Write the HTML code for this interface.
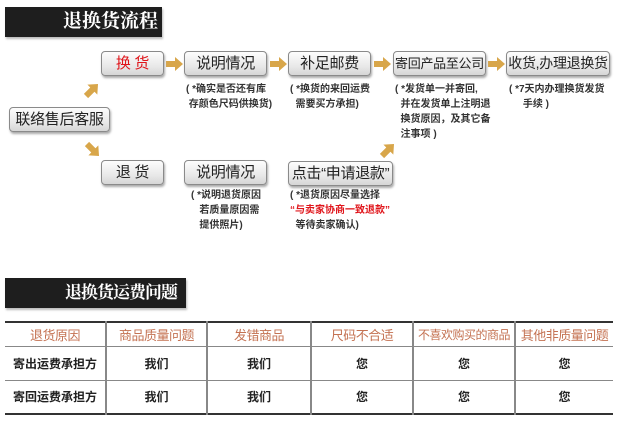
<!DOCTYPE html>
<html><head><meta charset="utf-8"><style>
*{margin:0;padding:0;box-sizing:border-box}
body{width:618px;height:429px;background:#fff;position:relative;overflow:hidden;font-family:"Liberation Sans","Noto Sans CJK SC",sans-serif;color:#222}
.title{position:absolute;background:#1e1e1e;color:#fff;font-family:"Liberation Serif","Noto Serif CJK SC",serif;font-weight:bold;font-size:19px;line-height:30px;box-shadow:1px 2px 2px #bbb;white-space:nowrap;overflow:hidden}
.box{position:absolute;height:25px;border:1px solid #8a8a8a;border-radius:4px;background:linear-gradient(#fdfdfd,#e9e9e9 60%,#d6d6d6);box-shadow:1px 2px 2px #aaa;font-size:15px;line-height:23px;text-align:center;color:#222;white-space:nowrap;letter-spacing:-0.3px}
.note{position:absolute;font-size:10px;line-height:15px;color:#333;white-space:nowrap;font-weight:bold}
.red{color:#e0151b}
svg{position:absolute;left:0;top:0}
table{position:absolute;left:5px;top:321px;width:608px;border-collapse:collapse;border-top:2px solid #333;border-bottom:2px solid #333;table-layout:fixed}
td{border-left:2px solid #888;border-right:2px solid #888;border-bottom:1px solid #888;text-align:center;font-size:12px;font-weight:bold;color:#222;white-space:nowrap;overflow:hidden;padding:0}
td:first-child{border-left:none}td:last-child{border-right:none}
tr.h td{color:#c47252;font-size:13px;height:24px;font-weight:normal;letter-spacing:-0.5px}
tr.r td{height:34px}
</style></head><body>
<div class="title" style="left:5px;top:7px;width:157px;height:30px;padding-left:58px">退换货流程</div>

<svg width="618" height="429">
<defs><g id="ar"><path d="M0,-3 H9 V-7 L17,0 L9,7 V3 H0 Z" fill="#d8a64a"/></g></defs>
<use href="#ar" x="166" y="64"/>
<use href="#ar" x="270" y="64"/>
<use href="#ar" x="374" y="64"/>
<use href="#ar" x="488" y="64"/>
<use href="#ar" transform="translate(86,96) rotate(-45)"/>
<use href="#ar" transform="translate(87,144) rotate(45)"/>
<use href="#ar" transform="translate(382,156) rotate(-45)"/>
</svg>

<div class="box" style="left:101px;top:51px;width:63px"><span class="red">换 货</span></div>
<div class="box" style="left:184px;top:51px;width:83px">说明情况</div>
<div class="box" style="left:288px;top:51px;width:83px">补足邮费</div>
<div class="box" style="left:393px;top:51px;width:93px;font-size:13px">寄回产品至公司</div>
<div class="box" style="left:506px;top:51px;width:104px;font-size:14px">收货,办理退换货</div>
<div class="box" style="left:9px;top:107px;width:101px">联络售后客服</div>
<div class="box" style="left:101px;top:160px;width:63px">退 货</div>
<div class="box" style="left:184px;top:160px;width:83px">说明情况</div>
<div class="box" style="left:288px;top:161px;width:105px">点击“申请退款”</div>

<div class="note" style="left:186px;top:82px">( *确实是否还有库<br>&nbsp;存颜色尺码供换货)</div>
<div class="note" style="left:290px;top:82px">( *换货的来回运费<br>&nbsp;&nbsp;需要买方承担)</div>
<div class="note" style="left:395px;top:82px">( *发货单一并寄回,<br>&nbsp;&nbsp;并在发货单上注明退<br>&nbsp;&nbsp;换货原因，及其它备<br>&nbsp;&nbsp;注事项 )</div>
<div class="note" style="left:509px;top:82px">( *7天内办理换货发货<br>&nbsp;&nbsp;&nbsp;&nbsp;&nbsp;手续 )</div>
<div class="note" style="left:191px;top:188px">( *说明退货原因<br>&nbsp;&nbsp;&nbsp;若质量原因需<br>&nbsp;&nbsp;&nbsp;提供照片)</div>
<div class="note" style="left:290px;top:188px">( *退货原因尽量选择<br><span class="red">“与卖家协商一致退款”</span><br>&nbsp;&nbsp;等待卖家确认)</div>

<div class="title" style="left:5px;top:278px;width:181px;height:30px;padding-left:60px;font-size:17px;letter-spacing:-1px">退换货运费问题</div>

<table>
<colgroup><col style="width:101px"><col style="width:101px"><col style="width:104px"><col style="width:102px"><col style="width:102px"><col></colgroup>
<tr class="h"><td>退货原因</td><td>商品质量问题</td><td>发错商品</td><td>尺码不合适</td><td style="font-size:12px">不喜欢购买的商品</td><td>其他非质量问题</td></tr>
<tr class="r"><td>寄出运费承担方</td><td>我们</td><td>我们</td><td>您</td><td>您</td><td>您</td></tr>
<tr class="r"><td>寄回运费承担方</td><td>我们</td><td>我们</td><td>您</td><td>您</td><td>您</td></tr>
</table>
</body></html>
